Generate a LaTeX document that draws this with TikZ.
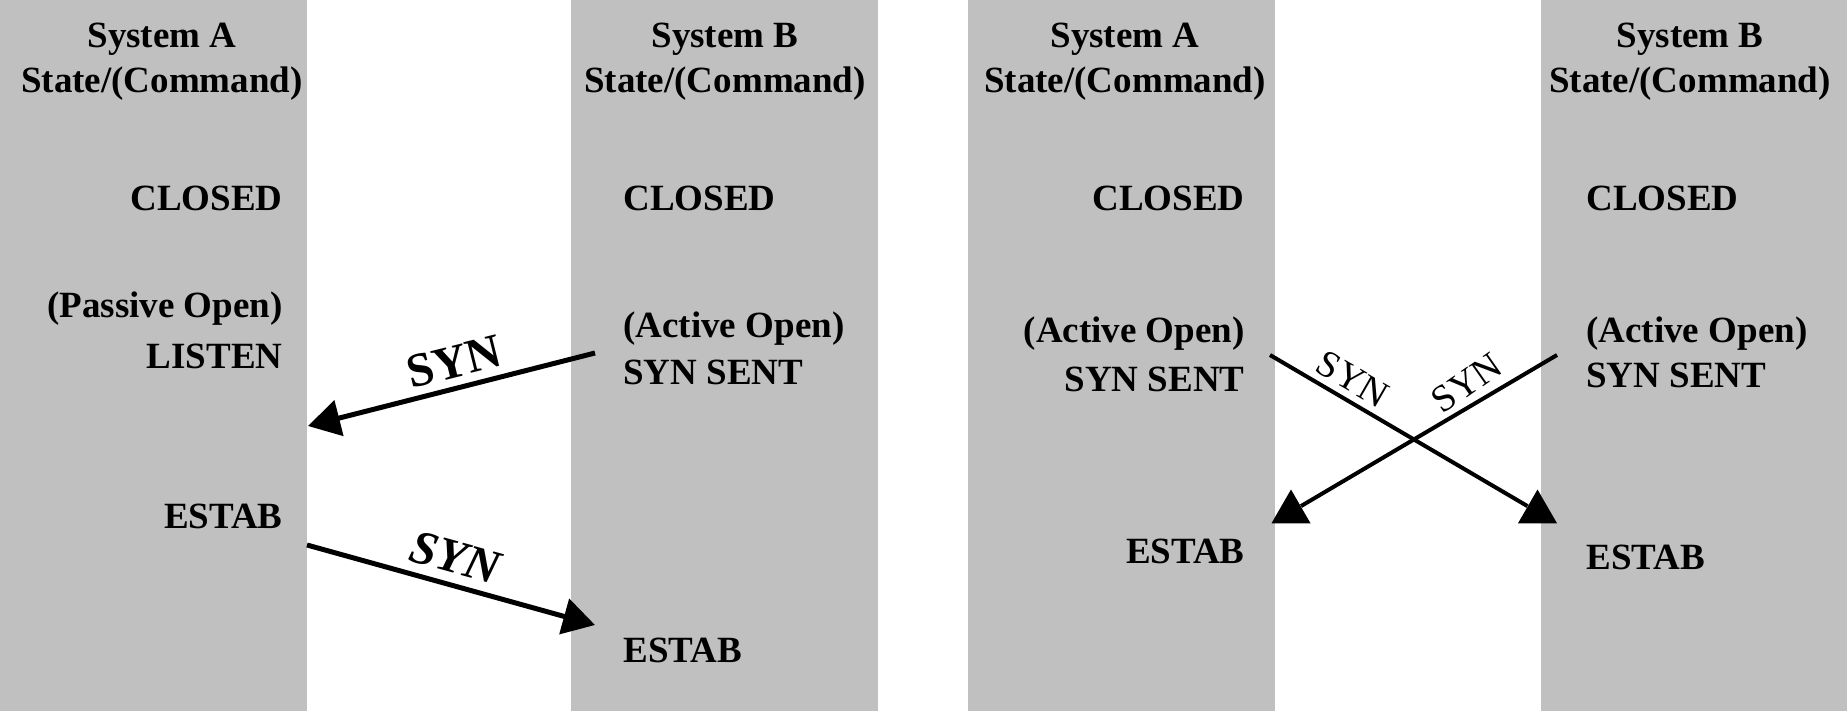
\documentclass[tikz,border=0pt]{standalone}
\usepackage{fontspec}
\setmainfont{Liberation Serif}
\usetikzlibrary{arrows.meta,shapes.geometric}
\definecolor{laneGray}{RGB}{192,192,192}

\begin{document}
\begin{tikzpicture}%
  [x=0.5pt,y=-0.5pt,
   every node/.style={inner sep=0,font=\fontsize{18.5}{22}\selectfont\bfseries}]
  \tikzstyle{lane}=[fill=laneGray]
  \tikzstyle{sys head}=[anchor=base]
  \tikzstyle{state a}=[anchor=base east]
  \tikzstyle{state b}=[anchor=base west]
  \tikzstyle{msg}=[line width=2.5pt,-{Triangle[length=16pt,width=18pt]}]
  \tikzstyle{cross msg}=[line width=2pt]
  \tikzstyle{head tri}=[regular polygon,regular polygon sides=3,fill=black,minimum size=22.5pt]
  \tikzstyle{syn}=[font=\fontsize{24}{24}\selectfont\bfseries]
  \tikzstyle{syn small}=[font=\fontsize{19}{19}\selectfont]
  \useasboundingbox (0,0) rectangle (1847,711);
  \fill[lane] (0,0) rectangle (307,711);
  \fill[lane] (571,0) rectangle (878,711);
  \fill[lane] (968,0) rectangle (1275,711);
  \fill[lane] (1541,0) rectangle (1847,711);
  \node(hA1)[sys head] at (162,48) {System A};
  \node(cA1)[sys head] at (162,93) {State/(Command)};
  \node(hB1)[sys head] at (725,48) {System B};
  \node(cB1)[sys head] at (725,93) {State/(Command)};
  \node(hA2)[sys head] at (1125,48) {System A};
  \node(cA2)[sys head] at (1125,93) {State/(Command)};
  \node(hB2)[sys head] at (1690,48) {System B};
  \node(cB2)[sys head] at (1690,93) {State/(Command)};
  \node(a1closed)[state a] at (283,211) {CLOSED};
  \node(a1open)[state a] at (283,317) {(Passive Open)};
  \node(a1listen)[state a] at (283,368) {LISTEN};
  \node(a1estab)[state a] at (283,528) {ESTAB};
  \node(b1closed)[state b] at (623,211) {CLOSED};
  \node(b1open)[state b] at (623,337) {(Active Open)};
  \node(b1sent)[state b] at (623,384) {SYN SENT};
  \node(b1estab)[state b] at (623,662) {ESTAB};
  \node(a2closed)[state a] at (1245,211) {CLOSED};
  \node(a2open)[state a] at (1245,343) {(Active Open)};
  \node(a2sent)[state a] at (1245,391) {SYN SENT};
  \node(a2estab)[state a] at (1245,563) {ESTAB};
  \node(b2closed)[state b] at (1586,211) {CLOSED};
  \node(b2open)[state b] at (1586,343) {(Active Open)};
  \node(b2sent)[state b] at (1586,387) {SYN SENT};
  \node(b2estab)[state b] at (1586,569) {ESTAB};
  \coordinate(b1out) at (595,353);
  \coordinate(a1in) at (308,426);
  \coordinate(a1out) at (307,545);
  \coordinate(b1in) at (595,625);
  \draw[msg] (b1out) -- (a1in);
  \draw[msg] (a1out) -- (b1in);
  \node(syn1)[syn,rotate=14] at (454,362) {SYN};
  \node(syn2)[syn,rotate=-15.5] at (456,558) {\textit{SYN}};
  \coordinate(a2out) at (1270,355);
  \coordinate(b2out) at (1557,355);
  \node(b2in)[head tri] at (1537.5,512) {};
  \node(a2in)[head tri] at (1291,512) {};
  \draw[cross msg] (a2out) -- (b2in);
  \draw[cross msg] (b2out) -- (a2in);
  \node(syn3)[syn small,rotate=-30] at (1353,379) {SYN};
  \node(syn4)[syn small,rotate=35] at (1467,383) {SYN};
\end{tikzpicture}
\end{document}
